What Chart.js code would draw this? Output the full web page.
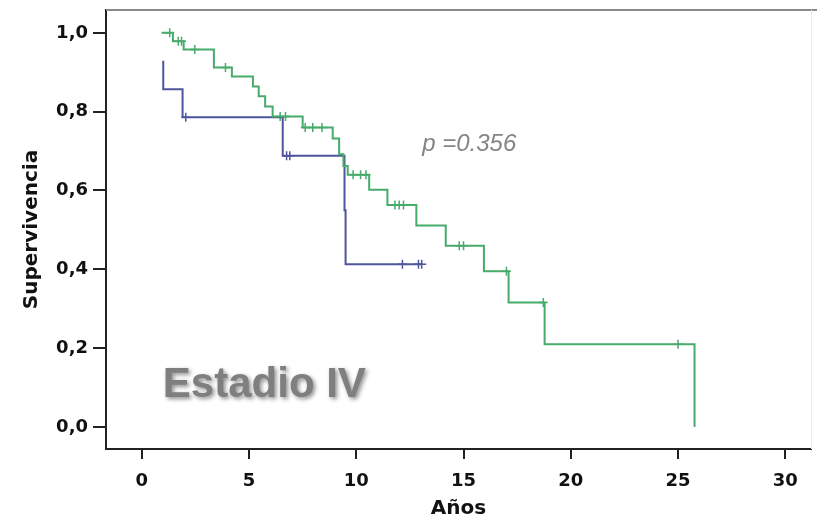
<!DOCTYPE html>
<html>
<head>
<meta charset="utf-8">
<script src="https://cdn.jsdelivr.net/npm/chart.js@4.4.1/dist/chart.umd.min.js"></script>
<style>
  html, body { margin: 0; padding: 0; background: #ffffff; }
  #wrap { width: 817px; height: 522px; }
</style>
</head>
<body>
<div id="wrap"><canvas id="km" width="817" height="522"></canvas></div>
<script>
// Kaplan-Meier steps: time (years) of each step and survival after it
const blueTimes = [1.0, 1.0, 1.9, 6.57, 9.45, 9.5, 13.05];
const blueSurv  = [0.929, 0.857, 0.786, 0.688, 0.55, 0.413, 0.413];
const blueCensored = [2.05, 6.75, 6.9, 12.15, 12.9, 13.05];

const greenTimes = [0.92, 1.45, 1.95, 3.36, 4.2, 5.18, 5.45, 5.75, 6.1, 7.5, 8.9, 9.2, 9.4, 9.6,
                    10.6, 11.45, 12.8, 14.17, 15.95, 17.1, 18.78, 25.77];
const greenSurv  = [1.0, 0.979, 0.958, 0.912, 0.889, 0.864, 0.839, 0.813, 0.788, 0.760, 0.732, 0.692, 0.662, 0.640,
                    0.602, 0.563, 0.511, 0.460, 0.395, 0.316, 0.210, 0.0];
const greenCensored = [1.3, 1.7, 1.85, 2.47, 3.9, 6.45, 6.7, 7.62, 7.97, 8.4, 9.85, 10.2, 10.45,
                       11.8, 12.0, 12.2, 14.8, 15.0, 17.0, 18.72, 25.0];

const xTicks = [0, 5, 10, 15, 20, 25, 30];
const yTicks = [0, 0.2, 0.4, 0.6, 0.8, 1.0];
const yTickLabels = ['0,0', '0,2', '0,4', '0,6', '0,8', '1,0'];

const xTitle = 'Años';
const yTitle = 'Supervivencia';
const pText = 'p =0.356';
const stageText = 'Estadio IV';

const blueColor = '#4f559c';
const greenColor = '#47ab6b';

// survival level of a step curve at time t
function levelAt(times, surv, t) {
  let s = surv[0];
  for (let i = 0; i < times.length; i++) {
    if (times[i] <= t) s = surv[i];
  }
  return s;
}
const toPoints = (times, surv) => times.map((t, i) => ({ x: t, y: surv[i] }));
const censorPoints = (cens, times, surv) => cens.map(t => ({ x: t, y: levelAt(times, surv, t) }));

Chart.defaults.font.family = "'DejaVu Sans', sans-serif";

const framePlugin = {
  id: 'frame',
  afterDraw(chart) {
    const { ctx, chartArea: a } = chart;
    ctx.save();
    ctx.strokeStyle = '#8a8a8a';
    ctx.lineWidth = 2;
    ctx.beginPath();
    ctx.moveTo(a.left, a.top);
    ctx.lineTo(chart.width, a.top);
    ctx.stroke();
    ctx.strokeStyle = '#ececec';
    ctx.lineWidth = 1;
    ctx.beginPath();
    ctx.moveTo(a.right + 0.5, a.top);
    ctx.lineTo(a.right + 0.5, a.bottom);
    ctx.stroke();
    ctx.restore();
  }
};

const notesPlugin = {
  id: 'notes',
  afterDatasetsDraw(chart) {
    const { ctx, scales: { x, y } } = chart;
    ctx.save();
    ctx.fillStyle = '#858585';
    ctx.font = 'italic 24px "Liberation Sans", Arial, sans-serif';
    ctx.textAlign = 'left';
    ctx.textBaseline = 'middle';
    ctx.fillText(pText, x.getPixelForValue(13.07), y.getPixelForValue(0.717));

    ctx.font = 'bold 42px "Liberation Sans", Arial, sans-serif';
    ctx.textBaseline = 'alphabetic';
    ctx.shadowColor = 'rgba(0,0,0,0.45)';
    ctx.shadowBlur = 4;
    ctx.shadowOffsetX = 2;
    ctx.shadowOffsetY = 2;
    ctx.fillStyle = '#7f7f7f';
    ctx.fillText(stageText, x.getPixelForValue(0.98), y.getPixelForValue(0.075));
    ctx.restore();
  }
};

new Chart(document.getElementById('km'), {
  type: 'line',
  data: {
    datasets: [
      {
        data: toPoints(greenTimes, greenSurv),
        stepped: 'before',
        borderColor: greenColor,
        borderWidth: 2,
        pointRadius: 0,
        fill: false
      },
      {
        data: toPoints(blueTimes, blueSurv),
        stepped: 'before',
        borderColor: blueColor,
        borderWidth: 2,
        pointRadius: 0,
        fill: false
      },
      {
        data: censorPoints(greenCensored, greenTimes, greenSurv),
        showLine: false,
        pointStyle: 'cross',
        pointRadius: 4.5,
        pointBorderWidth: 1.5,
        pointBorderColor: greenColor
      },
      {
        data: censorPoints(blueCensored, blueTimes, blueSurv),
        showLine: false,
        pointStyle: 'cross',
        pointRadius: 4.5,
        pointBorderWidth: 1.5,
        pointBorderColor: blueColor
      }
    ]
  },
  options: {
    responsive: false,
    animation: false,
    devicePixelRatio: 1,
    layout: { padding: { top: 10, right: 4, left: 0, bottom: 0 } },
    plugins: { legend: { display: false }, tooltip: { enabled: false } },
    scales: {
      x: {
        type: 'linear',
        position: 'bottom',
        min: -1.67,
        max: 31.2,
        afterFit(scale) { scale.height = 73; scale.paddingLeft = 0; scale.paddingRight = 0; },
        afterBuildTicks(scale) { scale.ticks = xTicks.map(v => ({ value: v })); },
        grid: { drawOnChartArea: false, drawTicks: true, tickLength: 10, color: '#222', lineWidth: 2 },
        border: { display: true, color: '#222', width: 2 },
        ticks: {
          color: '#111',
          font: { size: 18, weight: 'bold' },
          padding: 12,
          maxRotation: 0,
          callback: v => String(v)
        },
        title: {
          display: true,
          text: xTitle,
          color: '#111',
          font: { size: 20, weight: 'bold' },
          padding: { top: 0, bottom: 1 }
        }
      },
      y: {
        type: 'linear',
        min: -0.056,
        max: 1.058,
        afterFit(scale) { scale.width = 106; scale.paddingTop = 0; scale.paddingBottom = 0; },
        afterBuildTicks(scale) { scale.ticks = yTicks.map(v => ({ value: v })); },
        grid: { drawOnChartArea: false, drawTicks: true, tickLength: 13, color: '#222', lineWidth: 2 },
        border: { display: true, color: '#222', width: 2 },
        ticks: {
          color: '#111',
          font: { size: 18, weight: 'bold' },
          padding: 5,
          callback: v => {
            const i = yTicks.findIndex(t => Math.abs(t - v) < 1e-6);
            return i >= 0 ? yTickLabels[i] : '';
          }
        },
        title: {
          display: true,
          text: yTitle,
          color: '#111',
          font: { size: 20, weight: 'bold' },
          padding: { top: 20, bottom: 0 }
        }
      }
    }
  },
  plugins: [framePlugin, notesPlugin]
});
</script>
</body>
</html>
